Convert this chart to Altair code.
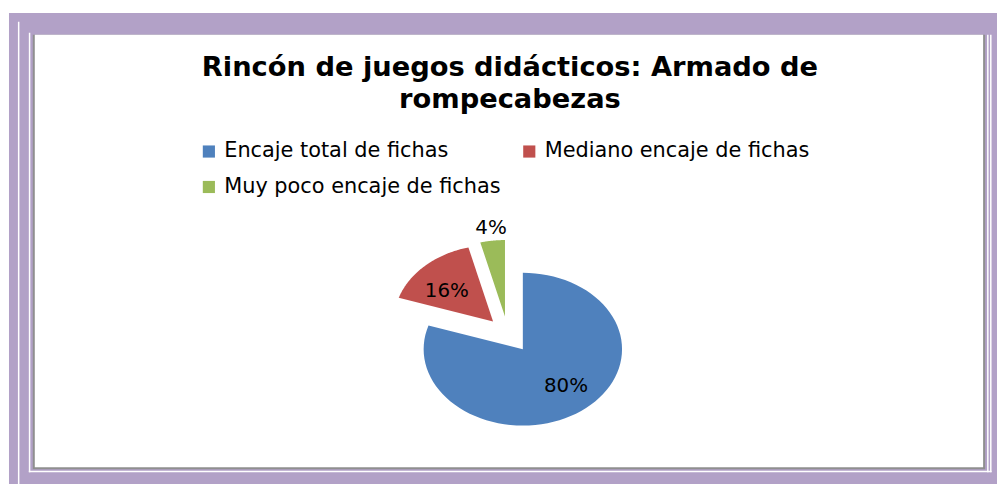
import altair as alt
import pandas as pd

# ---- data ----
categorias = ["Encaje total de fichas", "Mediano encaje de fichas", "Muy poco encaje de fichas"]
porcentajes = [80, 16, 4]
colores = ["#4f81bd", "#c0504d", "#9bbb59"]
titulo = ["Rincón de juegos didácticos: Armado de", "rompecabezas"]

# ---- layout / style constants (chart pixel space) ----
W, H = 997, 478
CX, CY, RX, RY = 519, 342, 100, 77          # pie centre and radii
EXPLODE = {categorias[0]: (0, 0), categorias[1]: (-30, -28), categorias[2]: (-18, -33)}
LABEL_R = {categorias[0]: (0.74, 0.59), categorias[1]: (0.68, 0.54), categorias[2]: (1.12, 1.17)}
N = 80
PURPLE = "#b2a1c7"
GREY = "#8f8f8f"

df = pd.DataFrame({
    "cat": categorias,
    "value": porcentajes,
    "ex": [EXPLODE[c][0] for c in categorias],
    "ey": [EXPLODE[c][1] for c in categorias],
    "fx": [LABEL_R[c][0] for c in categorias],
    "fy": [LABEL_R[c][1] for c in categorias],
})

xs = alt.Scale(domain=[0, W], nice=False, zero=False)
ys = alt.Scale(domain=[0, H], nice=False, zero=False, reverse=True)


def deco(x, x2, y, y2, color):
    return alt.Chart(alt.Data(values=[{}])).mark_rect(color=color).encode(
        x=alt.value(x), x2=alt.value(x2), y=alt.value(y), y2=alt.value(y2)
    )


frame = [
    deco(1, 997, 3, 478, PURPLE),
    deco(10, 11.5, 12, 478, "white"),
    deco(990, 991.5, 25, 466, "white"),
    deco(21, 22.5, 23, 466, "white"),
    deco(21, 991.5, 464.5, 466, "white"),
    deco(987, 988.5, 25, 466, "white"),
    deco(25, 985, 25, 463, GREY),
    deco(27, 983, 25, 461, "white"),
]

title = alt.Chart(alt.Data(values=[{}])).mark_text(
    font="DejaVu Sans", fontWeight="bold", fontSize=27.5, color="black",
    align="center", baseline="alphabetic", lineHeight=32,
).encode(x=alt.value(506), y=alt.value(67), text=alt.value(titulo))

base = alt.Chart(df).transform_joinaggregate(
    total="sum(value)"
).transform_window(
    cum="sum(value)", frame=[None, 0]
).transform_calculate(
    a0="2*PI*(datum.cum - datum.value)/datum.total",
    a1="2*PI*datum.cum/datum.total",
)

# legend grid fills column by column: order entries so rows read left-to-right
legend_order = [categorias[0], categorias[2], categorias[1]]

pie = base.transform_calculate(
    ks=f"sequence(0, {N + 2})"
).transform_flatten(
    ["ks"], as_=["k"]
).transform_calculate(
    ang=f"datum.a0 + (datum.a1 - datum.a0) * (datum.k - 1) / {N}",
).transform_calculate(
    px=f"{CX} + datum.ex + ((datum.k == 0) ? 0 : {RX} * sin(datum.ang))",
    py=f"{CY} + datum.ey - ((datum.k == 0) ? 0 : {RY} * cos(datum.ang))",
).mark_line(filled=True, strokeWidth=0).encode(
    x=alt.X("px:Q", scale=xs, axis=None),
    y=alt.Y("py:Q", scale=ys, axis=None),
    order=alt.Order("k:Q"),
    color=alt.Color(
        "cat:N",
        scale=alt.Scale(domain=categorias, range=colores),
        legend=alt.Legend(
            title=None, orient="none", legendX=192, legendY=132,
            values=legend_order,
            columns=2, columnPadding=18, rowPadding=14, padding=0,
            symbolType="square", symbolSize=150, symbolStrokeWidth=0,
            labelFont="DejaVu Sans", labelFontSize=21, labelColor="black",
            labelOffset=5, labelLimit=400,
        ),
    ),
)

labels = base.transform_calculate(
    mid="(datum.a0 + datum.a1) / 2",
).transform_calculate(
    lx=f"{CX} + datum.ex + {RX} * datum.fx * sin(datum.mid)",
    ly=f"{CY} + datum.ey - {RY} * datum.fy * cos(datum.mid)",
    txt="format(datum.value / datum.total, '.0%')",
).mark_text(
    font="DejaVu Sans", fontSize=20, color="black", align="center", baseline="middle"
).encode(
    x=alt.X("lx:Q", scale=xs, axis=None),
    y=alt.Y("ly:Q", scale=ys, axis=None),
    text="txt:N",
)

chart = alt.layer(*frame, title, pie, labels).properties(
    width=W, height=H, padding=0, autosize=alt.AutoSizeParams(type="none"),
    background="white",
).configure_view(stroke=None)

chart.save("out.html", embed_options={"renderer": "svg", "actions": False})
